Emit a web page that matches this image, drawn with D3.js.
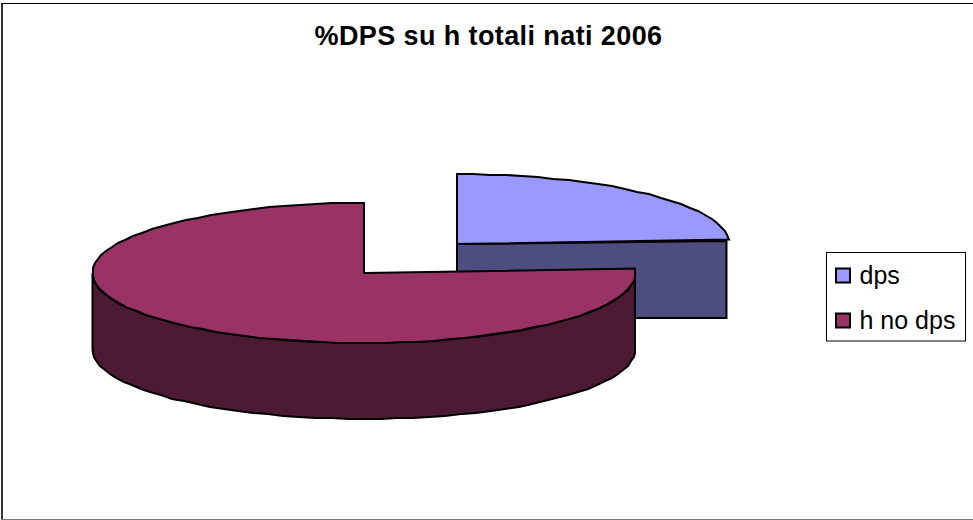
<!DOCTYPE html>
<html><head><meta charset="utf-8">
<script src="https://cdn.jsdelivr.net/npm/d3@7"></script>
<style>html,body{margin:0;padding:0;background:#fff;overflow:hidden}svg{display:block}text{font-family:"Liberation Sans",Arial,sans-serif;fill:#000}</style>
</head><body><svg id="c" width="973" height="520"></svg>
<script>
const categories = ["dps", "h no dps"];
const values = [24, 76];
const title = "%DPS su h totali nati 2006";
const topColors = ["#9999FF", "#993366"];
const sideColors = ["#4D4D80", "#4D1A33"];

const svg = d3.select("#c");
// frame: left and top strokes are heavier, bottom lighter, no right stroke in frame
svg.append("line").attr("x1",2).attr("x2",2).attr("y1",3).attr("y2",520).attr("stroke","#333").attr("stroke-width",2);
svg.append("line").attr("x1",1).attr("x2",973).attr("y1",3.5).attr("y2",3.5).attr("stroke","#000").attr("stroke-width",1);
svg.append("line").attr("x1",1).attr("x2",973).attr("y1",519.5).attr("y2",519.5).attr("stroke","#777").attr("stroke-width",1);
svg.append("text").attr("x",488.5).attr("y",45).attr("text-anchor","middle")
  .attr("font-size",27).attr("letter-spacing",0.4).attr("font-weight","bold").text(title);

const ry = 70, depth = 76;
const centers = [{x:457,y:244,rx:272.5},{x:364,y:273,rx:271.5}];
const slices = d3.pie().sort(null).value(d=>d)(values);

// sampled outline with slightly stepped edges, like the source rendering
const pt = (c,a,dy=0)=>[Math.round(c.x+c.rx*Math.sin(a)), Math.round(c.y-ry*Math.cos(a)+dy)];
const arcPts = (c,a0,a1,dy=0)=>{
  const n = Math.max(2,Math.round(Math.abs(a1-a0)/0.06));
  return d3.range(n+1).map(i=>{const a=a0+(a1-a0)*i/n; return i===0||i===n? [c.x+c.rx*Math.sin(a),c.y-ry*Math.cos(a)+dy] : pt(c,a,dy);});
};
const line = d3.line();
const draw = (pts,fill)=>svg.append("path").attr("d",line(pts)+"Z").attr("fill",fill)
  .attr("stroke","#000").attr("stroke-width",2).attr("stroke-linejoin","miter");

// dps: cut face, then top
{
  const s = slices[0], c = centers[0];
  const e = [c.x+(c.rx-2.5)*Math.sin(s.endAngle), c.y-ry*Math.cos(s.endAngle)+1.5];
  draw([[c.x,c.y],e,[e[0],c.y+depth-2],[c.x,c.y+depth-2]],sideColors[0]);
  draw([[c.x,c.y],...arcPts(c,s.startAngle,s.endAngle)],topColors[0]);
}
// h no dps: outer wall, then top
{
  const s = slices[1], c = centers[1];
  const right = s.startAngle, left = 3*Math.PI/2;
  draw([...arcPts(c,right,left),...arcPts(c,left,right,depth)],sideColors[1]);
  draw([[c.x,c.y],...arcPts(c,s.startAngle,s.endAngle)],topColors[1]);
}

// legend
svg.append("rect").attr("x",826.5).attr("y",252.5).attr("width",139).attr("height",88.5)
  .attr("fill","#fff").attr("stroke","#000").attr("stroke-width",1);
const legendY = d3.scalePoint().domain(categories).range([275.5,320.5]);
categories.forEach((k,i)=>{
  svg.append("rect").attr("x",836).attr("y",legendY(k)-7).attr("width",14).attr("height",14)
    .attr("fill",topColors[i]).attr("stroke","#000").attr("stroke-width",2);
  svg.append("text").attr("x",859.5).attr("y",legendY(k)+8).attr("font-size",25).text(k);
});
</script></body></html>
